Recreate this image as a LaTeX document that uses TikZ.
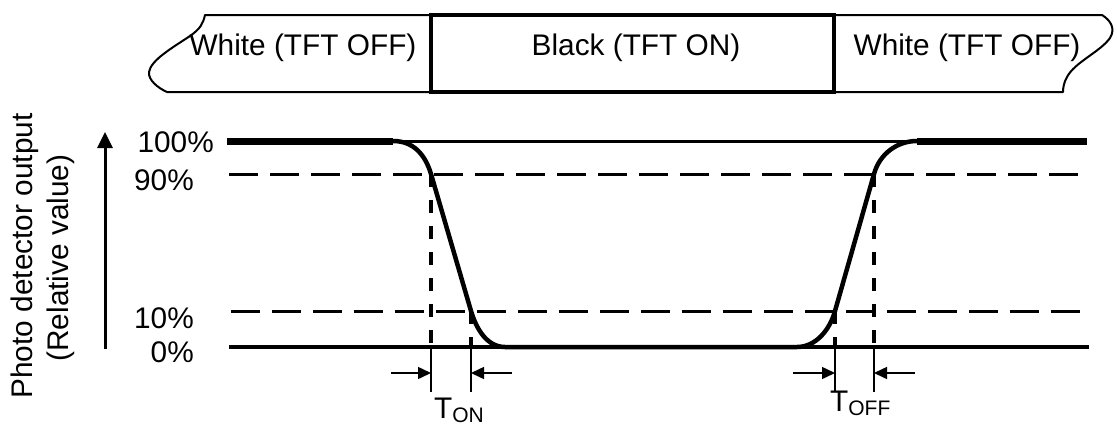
\documentclass[tikz,border=0pt]{standalone}
\usepackage{fontspec}
\setmainfont{Liberation Sans}
\usetikzlibrary{arrows.meta}
\begin{document}
\begin{tikzpicture}[x=1pt,y=-1pt,
  txt/.style={inner sep=0pt, font=\fontsize{29.8}{36}\selectfont},
  lvl/.style={txt, anchor=base east},
  band/.style={line width=2pt, line join=round},
  blackbox/.style={line width=3.5pt},
  levelline/.style={line width=3pt},
  thickline/.style={line width=7pt},
  resp/.style={line width=4.5pt, line join=round},
  hdash/.style={line width=3pt, dash pattern=on 29pt off 12pt},
  vdash/.style={line width=3.5pt, dash pattern=on 13pt off 13pt},
  tickline/.style={line width=1.5pt},
  dimarrow/.style={line width=1.5pt, -{Triangle[length=13pt,width=12pt]}},
  axisarrow/.style={line width=3pt, -{Triangle[length=16pt,width=15pt]}}
]
\useasboundingbox[fill=white] (0,0) rectangle (1117,426);

% ---- top band ----
\draw[band] (431,15) -- (205,15) .. controls (203,24) and (200,29) .. (190,36)
  .. controls (172,48) and (151,60) .. (149,72)
  .. controls (148,80) and (158,88) .. (167,92) -- (431,92);
\draw[band] (834,15) -- (1102,15) .. controls (1110,20) and (1116,28) .. (1110,38)
  .. controls (1100,52) and (1075,62) .. (1067,77)
  .. controls (1064,82) and (1063,88) .. (1063,92) -- (834,92);
\draw[blackbox] (431,15) rectangle (834,92);
\node[txt, anchor=base] (w1) at (303,55) {White (TFT OFF)};
\node[txt, anchor=base] (bk) at (636,55) {Black (TFT ON)};
\node[txt, anchor=base] (w2) at (967,55) {White (TFT OFF)};

% ---- y axis ----
\node[txt, rotate=90, anchor=base] (ylab1) at (32,256) {Photo detector output};
\node[txt, rotate=90, anchor=base] (ylab2) at (68,258) {(Relative value)};
\coordinate (ya0) at (105,349);
\coordinate (ya1) at (105,132);
\draw[axisarrow] (ya0) -- (ya1);

% ---- level labels ----
\node[lvl] (l100) at (214,152) {100\%};
\node[lvl] (l90) at (194,190) {90\%};
\node[lvl] (l10) at (194,328) {10\%};
\node[lvl] (l0) at (194,362) {0\%};

% ---- level lines ----
\draw[levelline] (227,141) -- (1087,141);
\draw[thickline] (227,141) -- (393,141);
\draw[thickline] (917,141) -- (1087,141);
\draw[levelline, line width=4pt] (229,347) -- (1089,347);
\draw[hdash] (229,174) -- (1087,174);
\draw[hdash] (231,311) -- (1088,311);

% ---- key points ----
\coordinate (a90) at (431,174);
\coordinate (a10) at (471,311);
\coordinate (b10) at (835,311);
\coordinate (b90) at (874,174);
\coordinate (a90b) at (431,347);
\coordinate (a10b) at (471,347);
\coordinate (b10b) at (835,347);
\coordinate (b90b) at (874,347);
\coordinate (a90t) at (431,392);
\coordinate (a10t) at (471,392);
\coordinate (b10t) at (835,392);
\coordinate (b90t) at (874,392);

% ---- response curve ----
\draw[resp] (393,141) .. controls (413,141) and (425,154) .. (a90) -- (a10)
  .. controls (477,331) and (488,347) .. (505,347) -- (797,347)
  .. controls (815,347) and (829.5,331) .. (b10) -- (b90)
  .. controls (879.5,154) and (897,141) .. (917,141);

% ---- vertical dashed markers and ticks ----
\draw[vdash] (a90) -- (a90b);
\draw[vdash] (a10) -- (a10b);
\draw[vdash] (b10) -- (b10b);
\draw[vdash] (b90) -- (b90b);
\draw[tickline] (a90b) -- (a90t);
\draw[tickline] (a10b) -- (a10t);
\draw[tickline] (b10b) -- (b10t);
\draw[tickline] (b90b) -- (b90t);

% ---- dimension arrows ----
\coordinate (ar1) at (391,373);
\coordinate (ar2) at (512,373);
\coordinate (ar3) at (793,373);
\coordinate (ar4) at (915,373);
\draw[dimarrow] (ar1) -- (a90 |- ar1);
\draw[dimarrow] (ar2) -- (a10 |- ar2);
\draw[dimarrow] (ar3) -- (b10 |- ar3);
\draw[dimarrow] (ar4) -- (b90 |- ar4);

% ---- time labels ----
\node[txt, anchor=base west] (ton) at (434,418) {T\raisebox{-4pt}{\fontsize{21}{24}\selectfont ON}};
\node[txt, anchor=base west] (toff) at (830,411) {T\raisebox{-4pt}{\fontsize{21}{24}\selectfont OFF}};
\end{tikzpicture}
\end{document}
